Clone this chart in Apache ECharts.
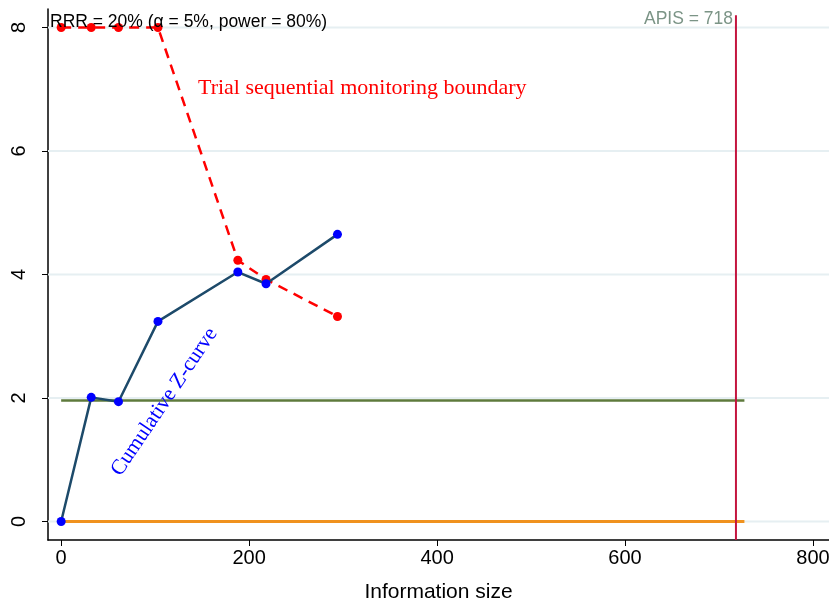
<!DOCTYPE html>
<html>
<head>
<meta charset="utf-8">
<script src="https://cdn.jsdelivr.net/npm/echarts@6/dist/echarts.min.js"></script>
<style>
  html, body { margin: 0; padding: 0; background: #fff; }
  #chart { width: 829px; height: 601px; }
</style>
</head>
<body>
<div id="chart"></div>
<script>
// information size of each look
var infoSize = [0, 32, 61, 103, 188, 218, 294];
// cumulative Z values
var zCurve = [0, 2.01, 1.94, 3.24, 4.04, 3.85, 4.65];
// monitoring boundary (8 = not computed / infinity)
var boundary = [8, 8, 8, 8, 4.23, 3.92, 3.32];
var xTicks = [0, 200, 400, 600, 800];
var yTicks = [0, 2, 4, 6, 8];
var apis = 718;
var zCrit = 1.96;
var refEnd = 727;

var chart = echarts.init(document.getElementById('chart'));

function pairs(xs, ys) {
  return xs.map(function (x, i) { return [x, ys[i]]; });
}

var sans = '"Liberation Sans", Arial, sans-serif';
var serif = '"Liberation Serif", "Times New Roman", serif';

var gridSeries = yTicks.map(function (v) {
  return {
    type: 'line', silent: true, symbol: 'none', z: 1,
    lineStyle: { color: '#e6eff2', width: 2 },
    data: [[-14, v], [817, v]]
  };
});

var option = {
  animation: false,
  grid: { left: 48, right: 0, top: 9, bottom: 61, outerBoundsMode: 'none', containLabel: false },
  xAxis: {
    type: 'value', min: -14, max: 817,
    name: 'Information size', nameLocation: 'middle', nameGap: 42,
    nameTextStyle: { fontFamily: sans, fontSize: 21, color: '#000' },
    axisLine: { onZero: false, lineStyle: { color: '#000', width: 1.5 } },
    axisTick: { customValues: xTicks, length: 6, lineStyle: { color: '#000' } },
    axisLabel: { customValues: xTicks, fontFamily: sans, fontSize: 20, color: '#000', margin: 8 },
    splitLine: { show: false }
  },
  yAxis: {
    type: 'value', min: -0.3, max: 8.3,
    axisLine: { show: true, onZero: false, lineStyle: { color: '#000', width: 1.5 } },
    axisTick: { show: true, customValues: yTicks, length: 6, lineStyle: { color: '#000' } },
    axisLabel: { customValues: yTicks, rotate: 90, fontFamily: sans, fontSize: 20, color: '#000', margin: 19 },
    splitLine: { show: false }
  },
  series: gridSeries.concat([
    {
      type: 'line', silent: true, symbol: 'none', z: 3,
      lineStyle: { color: '#f0921e', width: 3 },
      data: [[0, 0], [refEnd, 0]]
    },
    {
      type: 'line', silent: true, symbol: 'none', z: 3,
      lineStyle: { color: '#5e7a3c', width: 2.5 },
      data: [[0, zCrit], [refEnd, zCrit]]
    },
    {
      type: 'line', silent: true, symbol: 'none', z: 3,
      lineStyle: { color: '#c4153f', width: 2 },
      data: [[apis, -0.3], [apis, 8.2]]
    },
    {
      type: 'line', z: 5,
      symbol: 'circle', symbolSize: 9,
      itemStyle: { color: '#ff0000' },
      lineStyle: { color: '#ff0000', width: 2.5, type: [10, 7] },
      data: pairs(infoSize, boundary)
    },
    {
      type: 'line', z: 6,
      symbol: 'circle', symbolSize: 9,
      itemStyle: { color: '#0000ff' },
      lineStyle: { color: '#1d4a6a', width: 2.5 },
      data: pairs(infoSize, zCurve)
    }
  ]),
  graphic: [
    {
      type: 'text', left: 50, top: 13, z: 100,
      style: { text: 'RRR = 20% (\u03b1 = 5%, power = 80%)', fill: '#000', font: '17.5px ' + sans }
    },
    {
      type: 'text', right: 96, top: 10, z: 100,
      style: { text: 'APIS = 718', fill: '#7b9486', font: '17.5px ' + sans }
    },
    {
      type: 'text', left: 198, top: 77, z: 100,
      style: { text: 'Trial sequential monitoring boundary', fill: '#ff0000', font: '22px ' + serif }
    },
    {
      type: 'text', x: 125, y: 480, rotation: Math.PI * 56 / 180, z: 100,
      style: { text: 'Cumulative Z-curve', fill: '#0000ff', font: '21.5px ' + serif, verticalAlign: 'bottom' }
    }
  ]
};

chart.setOption(option);
</script>
</body>
</html>
